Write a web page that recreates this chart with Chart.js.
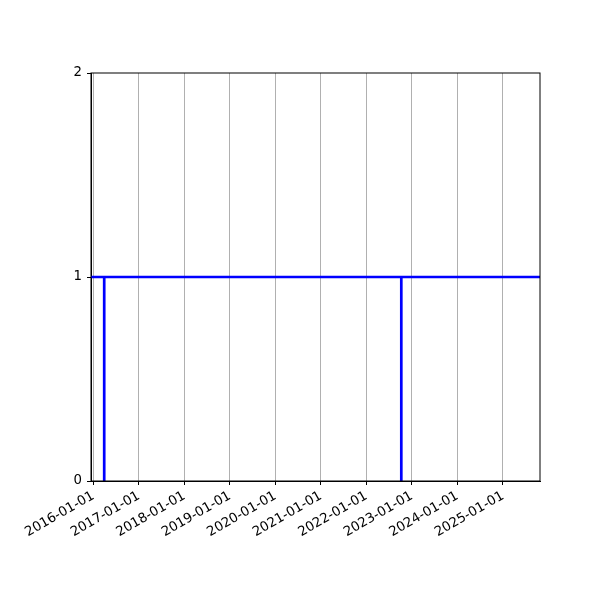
<!DOCTYPE html>
<html>
<head>
<meta charset="utf-8">
<script src="https://cdn.jsdelivr.net/npm/chart.js"></script>
<style>
  html, body { margin: 0; padding: 0; background: #fff; }
  #wrap { width: 600px; height: 600px; }
</style>
</head>
<body>
<div id="wrap"><canvas id="chart" width="600" height="600"></canvas></div>
<script>
// chart data
const xRange = ['2015-12-14', '2025-10-25'];
const pointDates = ['2015-12-14', '2016-03-29', '2016-03-29', '2016-03-29', '2022-10-08', '2022-10-08', '2022-10-08', '2025-10-25'];
const pointValues = [1, 1, 0, 1, 1, 0, 1, 1];
const yearTicks = ['2016-01-01', '2017-01-01', '2018-01-01', '2019-01-01', '2020-01-01',
                   '2021-01-01', '2022-01-01', '2023-01-01', '2024-01-01', '2025-01-01'];
const yTicks = [0, 1, 2];

const ms = d => Date.parse(d + 'T00:00:00Z');
const fmt = v => new Date(v).toISOString().slice(0, 10);

// frame around the plot area (top/right spines)
const framePlugin = {
    id: 'frame',
    afterDraw(chart) {
        const a = chart.chartArea;
        const ctx = chart.ctx;
        ctx.save();
        ctx.strokeStyle = '#000';
        ctx.lineWidth = 1;
        ctx.strokeRect(a.left, a.top, a.right - a.left, a.bottom - a.top);
        ctx.restore();
    }
};

Chart.defaults.font.family = '"DejaVu Sans", sans-serif';
Chart.defaults.font.size = 13.3;
Chart.defaults.color = '#000';

new Chart(document.getElementById('chart').getContext('2d'), {
    type: 'line',
    data: {
        datasets: [{
            data: pointDates.map((d, i) => ({ x: ms(d), y: pointValues[i] })),
            borderColor: '#0000ff',
            borderWidth: 2.7,
            pointRadius: 0,
            tension: 0,
            fill: false,
        }],
    },
    options: {
        responsive: false,
        animation: false,
        layout: { padding: { top: 73, right: 60, left: 0, bottom: 0 } },
        plugins: { legend: { display: false }, tooltip: { enabled: false } },
        scales: {
            x: {
                type: 'linear',
                min: ms(xRange[0]),
                max: ms(xRange[1]),
                afterBuildTicks: s => { s.ticks = yearTicks.map(d => ({ value: ms(d) })); },
                afterFit: s => { s.height = 119; },
                ticks: {
                    autoSkip: false,
                    minRotation: 30,
                    maxRotation: 30,
                    padding: 3,
                    callback: v => fmt(v),
                },
                grid: { color: '#b0b0b0', lineWidth: 1, tickColor: '#000', tickLength: 4 },
                border: { color: '#000', width: 1 },
            },
            y: {
                min: 0,
                max: 2,
                afterBuildTicks: s => { s.ticks = yTicks.map(v => ({ value: v })); },
                afterFit: s => { s.width = 91; },
                ticks: { padding: 5 },
                grid: { drawOnChartArea: false, tickColor: '#000', tickLength: 4 },
                border: { color: '#000', width: 1 },
            },
        },
    },
    plugins: [framePlugin],
});
</script>
</body>
</html>
